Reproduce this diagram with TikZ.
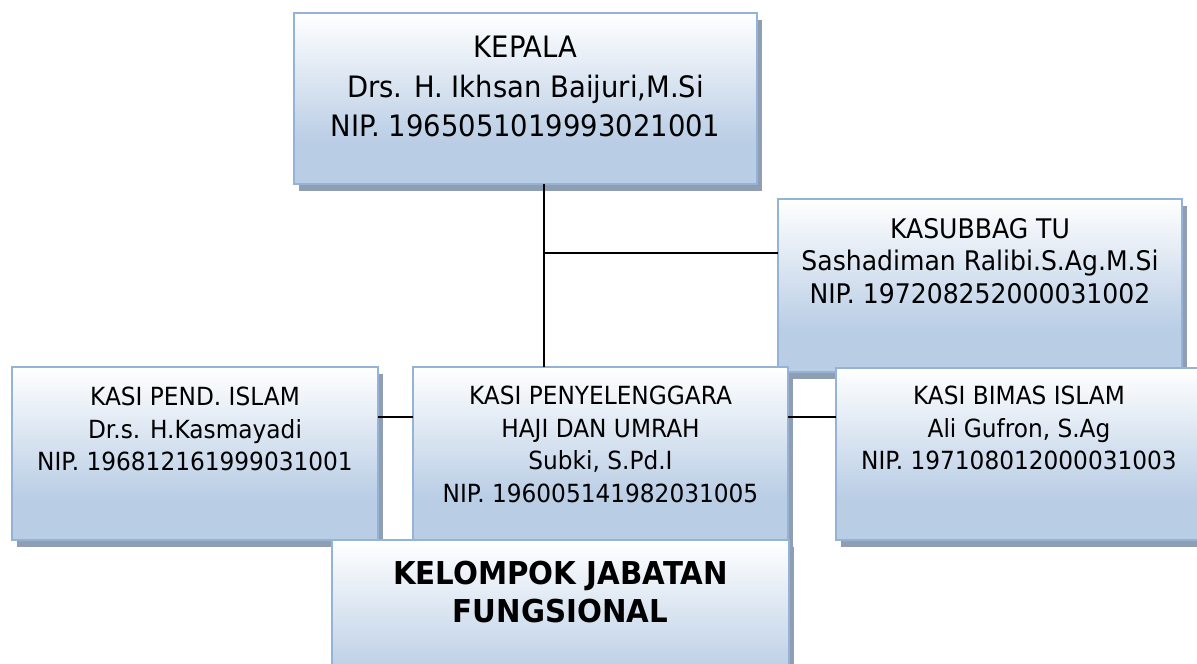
\documentclass[tikz,border=0pt]{standalone}
\usepackage{fontspec}
\setmainfont{DejaVu Sans}[FakeStretch=0.93]
\usetikzlibrary{shadows}
\definecolor{boxblue}{RGB}{185,205,229}
\definecolor{boxborder}{RGB}{149,179,215}
\definecolor{shadowgray}{RGB}{143,158,178}
\pgfdeclareverticalshading{boxshade}{100bp}{color(0bp)=(boxblue); color(25bp)=(boxblue); color(37bp)=(boxblue); color(75bp)=(white); color(100bp)=(white)}
\tikzset{
  orgbox/.style={draw=boxborder, line width=2.5pt, shading=boxshade, outer sep=0pt, inner sep=0pt,
    drop shadow={shadow xshift=4.5pt, shadow yshift=-7pt, fill=shadowgray, opacity=1}},
  txt/.style={anchor=north, inner sep=0pt, align=center, text=black},
  big/.style={txt, font=\fontsize{29.5}{39.5}\selectfont},
  mid/.style={txt, font=\fontsize{27}{32.5}\selectfont},
  small/.style={txt, font=\fontsize{25}{32.5}\selectfont},
  bold/.style={txt, font=\bfseries\fontsize{31.5}{38}\selectfont},
  conn/.style={draw=black, line width=2pt}
}
\begin{document}
\begin{tikzpicture}[x=1pt,y=-1pt]
\useasboundingbox (0,0) rectangle (1197,664);
\clip (0,0) rectangle (1197,664);
% Kepala
\node[orgbox, minimum width=463pt, minimum height=171pt] (kepala) at (525.5,98.5) {};
\node[big] (kepalaT) at ([yshift=-23pt]kepala.north) {KEPALA\\Drs. H. Ikhsan Baijuri,M.Si\\NIP. 1965051019993021001};
% Kasubbag
\node[orgbox, minimum width=404pt, minimum height=173pt] (kasub) at (980,285.5) {};
\node[mid] (kasubT) at ([yshift=-19pt]kasub.north) {KASUBBAG TU\\Sashadiman Ralibi.S.Ag.M.Si\\NIP. 197208252000031002};
% connector anchors
\coordinate (j1) at (544,253);
\coordinate (j2) at (0,417);
% Kasi boxes
\node[orgbox, minimum width=366pt, minimum height=173pt] (pend) at (195,453.5) {};
\node[small] (pendT) at ([yshift=-20pt]pend.north) {KASI PEND. ISLAM\\Dr.s. H.Kasmayadi\\NIP. 196812161999031001};
\node[orgbox, minimum width=375pt, minimum height=173pt] (peny) at (600.5,453.5) {};
\node[small] (penyT) at ([yshift=-19pt]peny.north) {KASI PENYELENGGARA\\HAJI DAN UMRAH\\Subki, S.Pd.I\\NIP. 196005141982031005};
\node[orgbox, minimum width=366pt, minimum height=172pt] (bimas) at (1019,454) {};
\node[small] (bimasT) at ([yshift=-18pt]bimas.north) {KASI BIMAS ISLAM\\Ali Gufron, S.Ag\\NIP. 197108012000031003};
% Kelompok
\node[orgbox, minimum width=457pt, minimum height=180pt] (kelompok) at (560.5,630) {};
\node[bold] (kelompokT) at ([yshift=-21pt]kelompok.north) {KELOMPOK JABATAN\\FUNGSIONAL};
% lines
\draw[conn] (j1 |- kepala.south) -- (j1 |- peny.north);
\draw[conn] (j1) -- (j1 -| kasub.west);
\draw[conn] (pend.east |- j2) -- (peny.west |- j2);
\draw[conn] (peny.east |- j2) -- (bimas.west |- j2);
\end{tikzpicture}
\end{document}
